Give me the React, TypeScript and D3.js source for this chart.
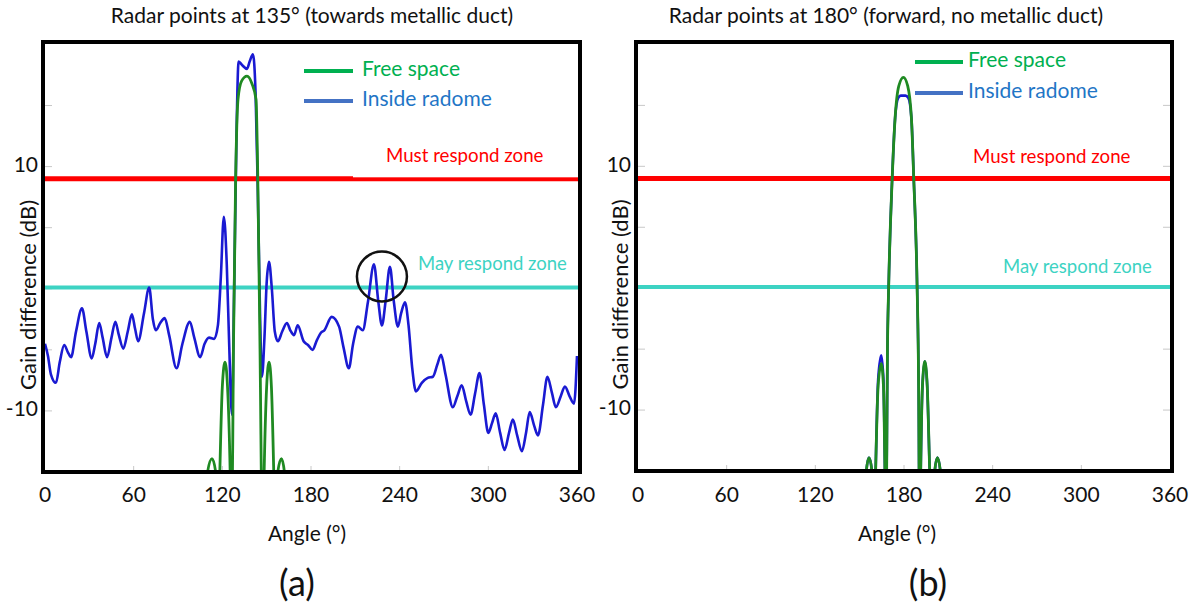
import React from 'react';
import * as d3 from 'd3';

type Pt = [number, number];

const angleTicks = [0, 60, 120, 180, 240, 300, 360];
const gainLabelTicks = [10, -10];
const gainMinorTicks = [-10, -5, 0, 5, 10, 15];
const gainDomain: [number, number] = [-15, 20.2];
const mustRespondLevel = 9;
const mayRespondLevel = 0.1;
const panelTitles = [
  'Radar points at 135° (towards metallic duct)',
  'Radar points at 180° (forward, no metallic duct)',
];
const legendLabels = ['Free space', 'Inside radome'];
const zoneLabels = ['Must respond zone', 'May respond zone'];
const panelTags = ['(a)', '(b)'];
const xAxisLabel = 'Angle (°)';
const yAxisLabel = 'Gain difference (dB)';
const circledPeak: Pt = [228, 1.0];

const leftInside: Pt[] = [
  [0, -4.5], [2, -5.5], [4, -7], [7.4, -7.7], [10, -6], [13, -4.6], [15.5, -5.2], [17.6, -5.6],
  [21, -3.5], [25, -1.6], [28, -3.5], [31.6, -5.7], [34, -4.5], [36.7, -2.8], [39, -4], [42, -5.6],
  [45, -4], [47.6, -2.7], [50, -3.8], [53, -4.9], [56, -3.5], [58.8, -2.1], [61, -3.3], [63, -4.3],
  [67, -2], [70.5, 0.1], [73, -2.5], [75, -3.4], [78, -2.8], [81, -2.4], [84, -3.8], [89, -6.5],
  [93, -4.5], [98, -2.7], [101, -4], [105, -5.6], [108, -4.5], [111, -4.0], [114.5, -4.1], [117, -3],
  [119, 1], [121, 5.9], [123, 2], [124.5, -4], [126.5, -10.3], [128, 0], [129.5, 12], [131, 18.6],
  [133.5, 18.3], [136.7, 18.0], [138.5, 18.6], [140.7, 19.2], [142.5, 16], [144, 8], [145.5, -2],
  [146.8, -7.2], [148.5, -4], [150, 0.5], [151.6, 2.2], [153.5, 0], [155.5, -3.5], [157.6, -4.3],
  [160.5, -3.5], [163.7, -2.8], [166, -3.4], [168.5, -3.8], [171, -3.0], [175, -4.3], [178, -4.6],
  [181, -5.0], [184, -4.2], [186.7, -3.6], [189, -3.4], [194, -2.3], [199, -3.1], [202, -4.8],
  [205.6, -6.5], [208.5, -4.5], [211.7, -3.1], [215, -3.4], [218.5, -1.1], [222.6, 2.0], [225.5, -1],
  [228, -3.0], [230.5, -1], [233.4, 1.8], [236, -1], [238.8, -3.1], [241, -2], [243.6, -1.1],
  [246, -3], [248.5, -6.5], [251, -8.4], [255, -7.7], [259, -7.3], [262.5, -7.2], [265.5, -6.2],
  [268, -5.4], [271, -7], [276, -9.7], [279, -8.8], [282, -7.9], [285, -9.2], [288, -10.3],
  [291, -8.6], [294, -6.9], [297, -9.5], [300, -11.8], [302.5, -11], [305, -10.2], [308, -11.8],
  [311, -13.2], [314, -11.8], [316.6, -10.7], [319.5, -12], [322.7, -13.3], [325.5, -11.8],
  [328, -10.1], [331, -11.2], [333.6, -12.0], [337, -9.5], [340, -7.2], [343, -8.5], [345.7, -9.7],
  [349, -8.8], [351.8, -8.0], [355, -8.8], [358, -9.4], [360, -5.5],
];

const leftFree: Pt[] = [
  [104, -30], [108, -17], [110, -15], [113, -13.9], [115.5, -15], [117, -22], [118.3, -15],
  [120, -8], [121.8, -6], [123.5, -8], [125.3, -15], [126.3, -22], [127.5, -5], [129, 9],
  [130.6, 15.5], [133, 17], [136.7, 17.4], [140, 16.8], [142.8, 15.5], [144, 9], [145.5, -5],
  [147.3, -22], [148.3, -15], [150, -8], [151.6, -6], [153.2, -8], [154.8, -15], [156, -22],
  [157.5, -15], [160, -13.9], [162, -15], [163.5, -22], [166, -30],
];

const rightInside: Pt[] = [
  [150, -30], [154.5, -15], [156.3, -13.9], [158.3, -15], [159.6, -22], [160.8, -15], [162.5, -7.5],
  [164.6, -5.5], [166.1, -7.5], [167.1, -15], [167.8, -22], [168.8, -5], [169.6, 0], [172, 9],
  [174, 14], [176, 15.6], [177.8, 15.8], [181, 15.8], [183, 15.6], [185, 14], [186.6, 9], [188.9, 0],
  [189.9, -8], [190.6, -22], [191.3, -15], [192.5, -8], [194.1, -6.0], [195.7, -8], [197.4, -15],
  [199.2, -22], [200.8, -15], [202.6, -13.9], [204.6, -15], [206.5, -30],
];

const rightFree: Pt[] = [
  [150, -30], [154.5, -15], [156.3, -13.9], [158.3, -15], [159.6, -22], [160.8, -15], [162.5, -8],
  [164.6, -6.2], [166.1, -8], [167.1, -15], [167.8, -22], [168.8, -5], [169.6, 0], [172, 9],
  [174, 14], [176.5, 16.6], [179.6, 17.3], [182.5, 16.6], [185, 14], [186.6, 9], [188.9, 0],
  [189.9, -8], [190.6, -22], [191.3, -15], [192.5, -8], [194.1, -6.0], [195.7, -8], [197.4, -15],
  [199.2, -22], [200.8, -15], [202.6, -13.9], [204.6, -15], [206.5, -30],
];

const FONT = 'Lato, "Open Sans", sans-serif';
const GREEN_LINE = '#1f8a22';
const BLUE_LINE = '#1a1ad2';
const LEG_GREEN = '#00b050';
const LEG_BLUE_LINE = '#4472c4';
const LEG_BLUE_TEXT = '#1f76c6';
const RED = '#ff0000';
const CYAN = '#3dd3c3';

type Layout = {
  id: string;
  fx0: number; fx1: number; fy0: number; fy1: number;
  xr: [number, number];
  titleX: number;
  legLine: [number, number]; legText: number; legY: [number, number];
  mustX: number; mustY: number;
  mayX: number; mayY: number;
  yLabelX: number; tagX: number; xLabelX: number;
  whiteBox?: boolean;
  rightTicks?: boolean;
};

function Panel({ L, inside, free, title, tag, circle }: {
  L: Layout; inside: Pt[]; free: Pt[]; title: string; tag: string; circle?: Pt;
}) {
  const x = d3.scaleLinear().domain([0, 360]).range(L.xr);
  const y = d3.scaleLinear().domain(gainDomain).range([L.fy1, L.fy0]);
  const line = d3.line<Pt>().x(d => x(d[0])).y(d => y(d[1])).curve(d3.curveMonotoneX);
  const clipId = 'clip-' + L.id;
  return (
    <g>
      <defs>
        <clipPath id={clipId}>
          <rect x={L.fx0} y={L.fy0} width={L.fx1 - L.fx0} height={L.fy1 - L.fy0} />
        </clipPath>
      </defs>
      <text x={L.titleX} y={18} textAnchor="middle" dominantBaseline="middle" fontSize={21} fontFamily={FONT} fill="#111">{title}</text>
      {gainMinorTicks.map(t => (
        <g key={'gy' + t}>
          <line x1={L.fx0} x2={L.fx0 + 9} y1={y(t)} y2={y(t)} stroke="#c8c8c8" strokeWidth={1} />
          {L.rightTicks && <line x1={L.fx1 - 9} x2={L.fx1} y1={y(t)} y2={y(t)} stroke="#c8c8c8" strokeWidth={1} />}
        </g>
      ))}
      {angleTicks.slice(1, -1).map(t => (
        <line key={'gx' + t} x1={x(t)} x2={x(t)} y1={L.fy1} y2={L.fy1 - 6} stroke="#c8c8c8" strokeWidth={1} />
      ))}
      <line x1={L.fx0} x2={L.fx1} y1={y(mustRespondLevel)} y2={y(mustRespondLevel)} stroke={RED} strokeWidth={5} />
      <line x1={L.fx0} x2={L.fx1} y1={y(mayRespondLevel)} y2={y(mayRespondLevel)} stroke={CYAN} strokeWidth={4} />
      {L.whiteBox && (
        <rect x={L.legLine[1]} y={L.mustY - 20} width={L.fx1 - L.legLine[1] - 2} height={y(mustRespondLevel) - 1.5 - (L.mustY - 20)} fill="#fff" />
      )}
      <g clipPath={`url(#${clipId})`}>
        <path d={line(inside) || ''} fill="none" stroke={BLUE_LINE} strokeWidth={2.6} />
        <path d={line(free) || ''} fill="none" stroke={GREEN_LINE} strokeWidth={2.8} />
      </g>
      {circle && (
        <circle cx={x(circle[0])} cy={y(circle[1])} r={25} fill="none" stroke="#111" strokeWidth={2.5} />
      )}
      <text x={L.mustX} y={L.mustY} dominantBaseline="middle" fontSize={18.7} fontFamily={FONT} fill={RED}>{zoneLabels[0]}</text>
      <text x={L.mayX} y={L.mayY} dominantBaseline="middle" fontSize={18.5} fontFamily={FONT} fill={CYAN}>{zoneLabels[1]}</text>
      <line x1={L.legLine[0]} x2={L.legLine[1]} y1={L.legY[0]} y2={L.legY[0]} stroke={LEG_GREEN} strokeWidth={4} />
      <line x1={L.legLine[0]} x2={L.legLine[1]} y1={L.legY[1]} y2={L.legY[1]} stroke={LEG_BLUE_LINE} strokeWidth={4} />
      <text x={L.legText} y={L.legY[0]} dominantBaseline="middle" fontSize={21} fontFamily={FONT} fill={LEG_GREEN}>{legendLabels[0]}</text>
      <text x={L.legText} y={L.legY[1]} dominantBaseline="middle" fontSize={21} fontFamily={FONT} fill={LEG_BLUE_TEXT}>{legendLabels[1]}</text>
      <rect x={L.fx0} y={L.fy0} width={L.fx1 - L.fx0} height={L.fy1 - L.fy0} fill="none" stroke="#000" strokeWidth={4} />
      {angleTicks.map(t => (
        <text key={'xl' + t} x={x(t)} y={497} textAnchor="middle" dominantBaseline="middle" fontSize={21} fontFamily={FONT} fill="#111">{t}</text>
      ))}
      {gainLabelTicks.map(t => (
        <text key={'yl' + t} x={L.fx0 - 5} y={y(t)} textAnchor="end" dominantBaseline="middle" fontSize={21} fontFamily={FONT} fill="#111">{t}</text>
      ))}
      <text x={L.xLabelX} y={536} textAnchor="middle" dominantBaseline="middle" fontSize={21} fontFamily={FONT} fill="#111">{xAxisLabel}</text>
      <text transform={`translate(${L.yLabelX},${(L.fy0 + L.fy1) / 2 + 38}) rotate(-90)`} textAnchor="middle" dominantBaseline="middle" fontSize={22} fontFamily={FONT} fill="#111">{yAxisLabel}</text>
      <text x={L.tagX} y={587} textAnchor="middle" dominantBaseline="middle" fontSize={36} fontFamily={FONT} fill="#111">{tag}</text>
    </g>
  );
}

const leftLayout: Layout = {
  id: 'a', fx0: 43, fx1: 580, fy0: 42, fy1: 472, xr: [45, 577], titleX: 312,
  legLine: [304, 353], legText: 362, legY: [71, 101],
  mustX: 386, mustY: 157, mayX: 418, mayY: 265,
  yLabelX: 30, tagX: 297, xLabelX: 307, whiteBox: true,
};
const rightLayout: Layout = {
  id: 'b', fx0: 636, fx1: 1172, fy0: 42, fy1: 471, xr: [638, 1170], titleX: 886,
  legLine: [915, 963], legText: 968, legY: [62, 93],
  mustX: 973, mustY: 158, mayX: 1003, mayY: 268,
  yLabelX: 622, tagX: 928, xLabelX: 897, rightTicks: true,
};

export default function App() {
  return (
    <svg width={1199} height={612} style={{ position: 'absolute', left: 0, top: 0, background: '#fff' }}>
      <rect width={1199} height={612} fill="#fff" />
      <Panel L={leftLayout} inside={leftInside} free={leftFree} title={panelTitles[0]} tag={panelTags[0]} circle={circledPeak} />
      <Panel L={rightLayout} inside={rightInside} free={rightFree} title={panelTitles[1]} tag={panelTags[1]} />
    </svg>
  );
}
